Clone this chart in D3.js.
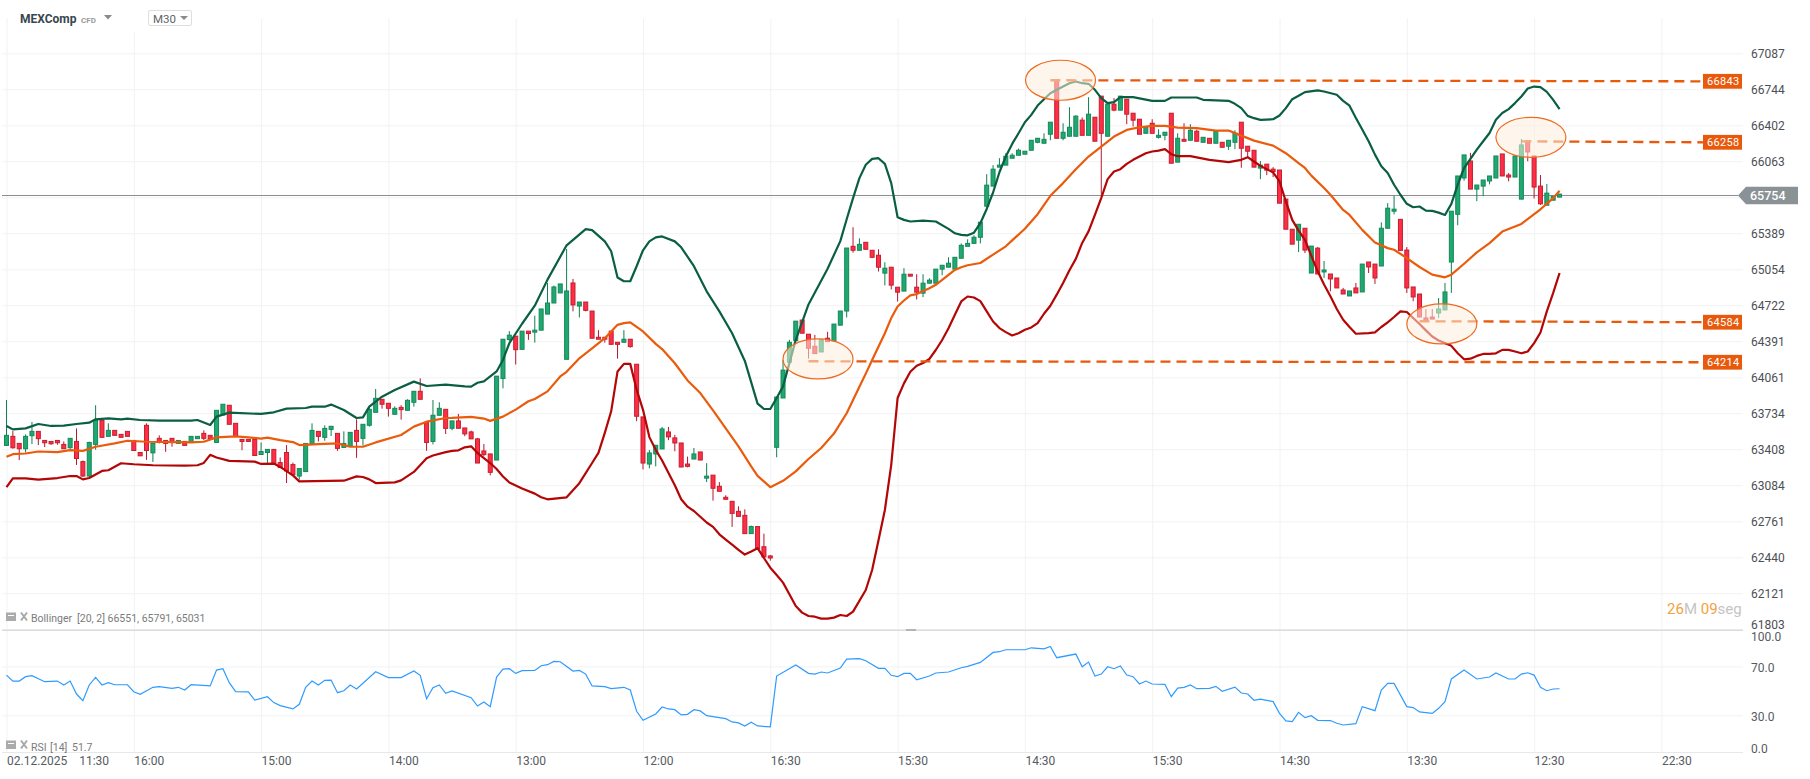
<!DOCTYPE html>
<html>
<head>
<meta charset="utf-8">
<title>MEXComp M30</title>
<script src="https://cdn.jsdelivr.net/npm/d3@7"></script>
<style>
  body { margin: 0; background: #fff; }
  svg { display: block; font-family: Roboto, sans-serif; }
  .grid line { stroke: #f2f2f2; }
  .grid path { display: none; }
</style>
</head>
<body>
<svg id="chart" width="1810" height="779"></svg>
<script>
var opens = [63443,63525,63461,63413,63531,63570,63488,63479,63488,63452,
63422,63479,63297,63167,63452,63670,63525,63579,63543,63570,
63488,63379,63625,63376,63507,63488,63507,63461,63479,63470,
63504,63552,63534,63470,63719,63807,63643,63497,63497,63497,
63361,63379,63407,63288,63379,63270,63167,63207,63461,63570,
63516,63588,63552,63425,63434,63579,63507,63625,63743,63861,
63825,63725,63788,63761,63834,63934,63652,63479,63716,63770,
63598,63665,63601,63565,63502,63393,63366,63311,64051,64407,
64438,64317,64484,64475,64493,64641,64743,64836,64226,64928,
64715,64752,64669,64428,64428,64484,64382,64382,64410,64181,
63701,63275,63366,63411,63565,63511,63465,63275,63320,63384,
63148,63175,63075,62976,62940,62850,62814,62651,62714,62534,
62452,63426,63873,64199,64397,64586,64456,64345,64293,64419,
64391,64539,64669,65268,65231,65305,65231,65185,65019,65074,
64889,64853,65009,64889,64834,64926,64926,65056,65074,65056,
65157,65268,65295,65352,65642,65830,66008,66027,66092,66120,
66130,66167,66242,66233,66318,66834,66280,66299,66299,66451,
66308,66479,66679,66299,66603,66546,66650,66517,66460,66327,
66422,66289,66308,66517,66055,66270,66261,66346,66242,66280,
66233,66242,66205,66242,66432,66205,66167,65999,66036,65989,
65981,65708,65427,65325,65436,65020,65251,65030,65011,64974,
64863,64808,64882,64845,65122,65103,65085,65436,65595,65519,
65233,64891,64826,64605,64614,64651,64679,65122,65566,65906,
66066,65802,65830,65878,65906,66132,65934,65915,65708,66255,
66113,65830,65651,65698,65727];

var highs = [63855,63573,63461,63543,63655,63570,63488,63479,63488,63479,
63507,63597,63307,63476,63807,63688,63643,63579,63543,63570,
63488,63379,63643,63461,63534,63488,63507,63488,63479,63525,
63525,63579,63534,63761,63816,63807,63643,63497,63497,63497,
63470,63407,63407,63334,63446,63288,63234,63461,63643,63570,
63625,63616,63552,63570,63561,63679,63634,63794,63955,63861,
63825,63797,63807,63861,63934,64052,63652,63855,63834,63770,
63665,63728,63601,63577,63511,63456,63366,64072,64410,64484,
64438,64484,64484,64626,64688,64928,64904,64919,65243,64965,
64752,64752,64669,64493,64428,64484,64382,64493,64410,64181,
63701,63402,63444,63610,63610,63538,63465,63342,63420,63384,
63283,63175,63112,62994,62940,62895,62868,62723,62714,62651,
62461,63882,64220,64404,64576,64586,64456,64450,64404,64478,
64549,64669,65252,65446,65342,65305,65231,65240,65120,65074,
64889,65065,65009,65009,65009,64972,65056,65092,65166,65166,
65295,65333,65370,65492,65942,66027,66092,66139,66139,66183,
66158,66261,66280,66327,66432,66834,66422,66574,66498,66476,
66669,66479,66679,66603,66660,66679,66650,66517,66460,66384,
66460,66365,66337,66517,66327,66422,66413,66362,66289,66280,
66346,66242,66261,66356,66432,66205,66167,66065,66036,66008,
65981,65708,65427,65473,65436,65270,65261,65131,65011,64974,
64882,64854,64928,65103,65122,65103,65491,65670,65739,65519,
65261,64891,64826,64688,64688,64789,64928,65595,65925,66123,
66142,65840,65887,65925,66113,66132,65953,66113,66274,66255,
66113,65934,65849,65736,65755];

var lows = [63443,63413,63310,63379,63455,63446,63428,63449,63449,63413,
63413,63267,63158,63158,63404,63516,63525,63534,63516,63525,
63397,63349,63313,63294,63461,63385,63431,63461,63443,63470,
63504,63491,63504,63470,63719,63634,63525,63400,63479,63352,
63361,63285,63276,63243,63104,63179,63134,63207,63461,63479,
63485,63528,63394,63425,63434,63331,63443,63613,63743,63776,
63704,63725,63676,63761,63794,63861,63394,63452,63716,63546,
63580,63598,63526,63502,63284,63345,63173,63311,63961,64391,
64178,64317,64404,64379,64493,64641,64743,64836,64226,64666,
64610,64666,64419,64410,64379,64363,64232,64382,64333,63662,
63227,63236,63254,63411,63490,63390,63248,63245,63320,63311,
63112,62946,63030,62958,62711,62805,62651,62651,62516,62443,
62410,63336,63873,64199,64397,64465,64232,64278,64293,64388,
64391,64539,64610,65209,65231,65240,65157,65034,64905,64868,
64757,64853,64991,64776,64797,64926,64926,65000,65074,65056,
65157,65268,65295,65295,65642,65830,66008,66027,66092,66120,
66130,66167,66233,66233,66261,66280,66261,66299,66299,66308,
66308,66252,65749,66299,66536,66546,66413,66391,66318,66327,
66327,66277,66261,66045,66055,66252,66261,66252,66242,66233,
66233,66195,66170,66177,66002,66102,66008,65895,65933,65914,
65670,65427,65288,65214,65205,65020,65011,64974,64851,64882,
64826,64808,64836,64845,65020,64919,65085,65436,65566,65230,
64836,64759,64614,64577,64595,64605,64679,64836,65464,65881,
65802,65689,65736,65846,65906,65925,65874,65915,65708,66063,
65714,65654,65651,65698,65727];

var closes = [63534,63422,63413,63525,63570,63504,63467,63458,63467,63413,
63507,63325,63167,63470,63670,63516,63579,63534,63516,63525,
63397,63349,63397,63461,63470,63461,63470,63488,63443,63525,
63525,63507,63504,63761,63816,63634,63525,63479,63479,63352,
63388,63407,63276,63243,63213,63179,63234,63461,63579,63525,
63597,63616,63416,63461,63561,63479,63634,63770,63870,63816,
63779,63779,63767,63852,63934,63861,63470,63716,63779,63597,
63665,63598,63547,63502,63284,63360,63200,64072,64410,64447,
64314,64484,64462,64493,64688,64743,64891,64919,64854,64725,
64752,64675,64419,64410,64410,64363,64363,64410,64342,63707,
63284,63375,63444,63592,63520,63465,63248,63254,63366,63311,
63166,63057,63030,62958,62832,62805,62651,62714,62516,62443,
62434,63882,64127,64382,64576,64465,64327,64278,64404,64388,
64549,64669,65252,65231,65286,65240,65166,65074,65065,64908,
64843,65009,64991,64843,64926,64954,65056,65092,65111,65166,
65277,65295,65352,65492,65839,65989,66027,66111,66120,66167,
66158,66261,66280,66270,66432,66280,66337,66384,66489,66308,
66508,66252,66327,66603,66546,66679,66508,66451,66318,66384,
66327,66308,66337,66045,66280,66252,66356,66252,66289,66233,
66346,66195,66261,66327,66186,66158,66008,66027,65980,65967,
65670,65427,65288,65473,65233,65270,65011,65048,64965,64882,
64826,64854,64836,65103,65076,64974,65436,65623,65614,65230,
64882,64799,64614,64577,64595,64688,64845,65595,65925,66123,
65802,65840,65887,65925,66113,65925,65915,66113,66217,66151,
65821,65664,65764,65736,65755];

var upperIdx = [0,1,3,5,7,9,11,13,14,16,18,19,21,24,29,30,32,33,35,40,42,44,47,48,50,51,53,55,56,57,59,61,64,66,69,
72,73,74,75,77,78,79,81,83,85,88,91,92,94,95,96,97,98,99,100,101,102,103,105,106,108,110,112,114,116,118,119,120,121,122,123,124,126,129,131,
132,133,134,135,136,137,138,139,140,141,142,144,146,148,149,150,151,152,153,154,155,156,157,158,159,160,161,162,163,164,165,166,167,168,169,170,171,172,173,174,175,177,180,182,183,187,188,192,193,194,195,196,197,199,200,201,202,203,204,206,207,209,210,
211,212,213,214,215,216,217,218,219,220,221,222,223,224,225,226,227,228,229,230,231,232,233,234,235,236,237,238,239,240,241,242,243,244];
var upperVal = [63619,63588,63597,63637,63619,63622,63637,63649,63679,63688,63679,63685,63673,63667,63667,63673,63628,63704,63740,63728,63743,63776,63782,63794,63794,63813,63764,63691,63697,63794,63885,63946,64022,63982,63994,
63979,63976,64012,64024,64115,64220,64373,64552,64718,64959,65277,65428,65419,65314,65222,64978,64944,64944,65083,65231,65314,65351,65360,65314,65259,65083,64851,64666,64465,64211,63822,63773,63773,63873,63979,64190,64404,64730,65060,65316,
65520,65717,65905,66030,66086,66092,66039,65858,65539,65514,65499,65508,65499,65430,65389,65374,65370,65395,65483,65616,65770,65960,66108,66227,66327,66432,66501,66590,66650,66707,66739,66771,66802,66818,66802,66796,66739,66660,66612,66622,66669,66669,66634,66634,66666,66666,66644,66634,66606,66565,66492,66470,66454,66460,66495,66565,66650,66682,66717,66733,66723,66692,66634,
66588,66472,66362,66252,66126,66016,65953,65843,65749,65664,65632,65639,65601,65598,65582,65560,65664,65843,66000,66085,66173,66252,66330,66456,66519,66556,66613,66676,66751,66770,66764,66720,66644,66556];

var midIdx = [0,1,3,5,8,10,12,14,17,19,22,29,31,33,36,38,40,41,43,45,46,49,52,54,56,58,62,64,66,69,
70,73,75,76,78,80,82,83,85,87,88,90,92,94,96,97,98,100,102,103,105,107,109,111,113,115,117,118,120,122,124,126,128,130,132,133,134,135,136,138,139,140,141,142,143,145,146,148,149,150,151,153,155,157,158,160,162,164,166,168,170,172,174,176,178,180,182,184,187,190,192,194,196,199,201,203,204,
205,207,208,210,211,213,215,217,218,220,222,224,226,227,229,231,233,235,238,241,243,244];
var midVal = [63340,63364,63370,63388,63382,63400,63394,63431,63461,63485,63476,63470,63476,63516,63525,63516,63504,63513,63491,63473,63446,63455,63461,63431,63431,63470,63537,63613,63658,63691,
63692,63701,63686,63665,63704,63767,63843,63864,63933,64069,64112,64235,64327,64419,64542,64558,64564,64481,64367,64320,64190,64033,63918,63761,63598,63435,63254,63169,63067,63124,63209,63320,63420,63550,63734,63855,63975,64095,64219,64465,64604,64711,64766,64813,64825,64880,64911,65003,65049,65074,65092,65113,65191,65268,65323,65431,65567,65739,65858,65989,66108,66202,66296,66359,66384,66397,66397,66381,66375,66353,66353,66305,66258,66211,66139,66045,66000,
65928,65812,65749,65607,65560,65421,65304,65251,65236,65159,65076,65005,64980,65005,65106,65211,65297,65405,65476,65613,65717,65786];

var lowerIdx = [0,1,3,5,8,10,11,12,13,15,16,18,20,23,28,30,31,32,33,35,39,40,42,43,45,46,53,55,56,57,58,61,62,64,66,67,69,
70,71,72,73,74,75,76,77,78,79,81,83,84,85,88,90,92,93,94,95,96,97,98,99,100,101,102,103,105,106,107,108,109,110,111,112,113,114,115,116,117,118,119,120,121,122,123,124,125,126,127,128,129,130,131,132,133,135,136,137,138,139,140,141,142,143,144,145,146,147,148,149,150,151,152,153,154,155,156,157,158,159,160,161,162,163,164,165,166,167,168,169,170,171,172,
173,174,175,176,177,178,179,180,181,182,183,184,186,189,192,194,195,196,197,199,200,201,202,203,204,205,206,207,208,209,210,211,212,214,215,216,217,218,219,220,221,222,223,224,225,226,227,228,229,230,231,232,233,234,235,236,237,238,239,240,241,242,243,244];
var lowerVal = [63067,63146,63146,63134,63149,63167,63167,63137,63149,63213,63219,63282,63273,63264,63261,63264,63285,63358,63334,63304,63297,63276,63279,63249,63173,63119,63125,63164,63158,63137,63104,63110,63128,63204,63328,63352,63382,
63393,63399,63426,63435,63375,63329,63284,63230,63163,63109,63055,63009,62976,62958,62976,63103,63284,63375,63556,63752,64115,64184,64184,63949,63765,63518,63403,63307,63084,62958,62892,62853,62802,62750,62711,62645,62597,62552,62507,62464,62491,62521,62434,62348,62283,62215,62112,62009,61950,61920,61914,61897,61897,61906,61929,61920,61959,62150,62327,62591,62862,63268,63873,64006,64112,64167,64192,64229,64311,64403,64511,64634,64757,64803,64794,64760,64666,64573,64512,64475,64444,64465,64496,64518,64558,64644,64718,64820,64928,65046,65151,65299,65407,65561,65720,
65895,65967,65989,66039,66077,66108,66139,66155,66164,66177,66130,66111,66111,66077,66055,66077,66102,66061,66020,65958,65874,65686,65514,65414,65328,65180,65036,64913,64805,64688,64589,64522,64460,64466,64472,64522,64565,64614,64666,64660,64605,64549,64491,64435,64398,64374,64349,64281,64226,64232,64257,64275,64275,64281,64312,64312,64297,64281,64297,64374,64472,64666,64836,65020];

var rsiIdx = [0,1,2,3,4,6,8,9,10,11,12,13,14,15,16,17,19,20,21,23,24,26,27,28,29,32,33,34,35,36,38,39,41,42,43,45,46,47,48,49,50,51,52,53,54,55,58,60,62,64,65,66,67,68,69,70,73,74,75,76,77,78,79,80,81,83,84,85,86,87,89,90,91,92,94,95,97,98,99,100,102,103,104,105,106,107,108,109,110,113,114,115,116,117,118,120,121,124,126,127,128,129,131,132,134,135,137,138,139,140,
141,142,143,145,146,148,150,151,153,155,156,157,160,161,163,164,165,168,169,170,171,172,173,174,175,176,177,178,179,180,182,183,184,185,186,187,189,190,191,193,194,195,196,197,199,200,201,202,203,204,205,206,208,209,210,212,213,215,216,217,218,220,221,222,224,225,226,227,229,231,233,234,236,237,238,239,240,241,242,243,244];
var rsiVal = [62.9,58.0,58.0,61.6,62.4,57.5,58.0,54.8,58.0,47.4,42.0,54.8,61.0,54.8,56.7,55.0,55.0,49.3,47.2,52.9,53.4,52.0,52.9,50.7,55.0,54.0,67.0,68.1,56.7,49.3,49.1,42.5,45.2,40.4,37.9,35.2,39.0,52.9,58.0,54.8,58.6,58.8,48.5,50.1,54.8,51.5,65.6,60.8,60.8,66.2,62.7,43.6,52.6,54.8,48.0,49.9,44.4,37.6,40.9,37.1,61.3,67.8,68.1,64.3,66.5,66.7,70.5,71.4,74.1,73.8,66.2,66.7,63.7,54.0,53.4,51.8,52.9,50.7,33.3,25.9,31.1,36.8,35.2,34.6,30.3,30.8,34.6,33.6,29.7,27.3,24.6,23.8,21.3,24.3,21.3,20.5,62.1,71.1,64.3,63.7,65.4,64.6,68.6,76.0,76.3,74.6,68.4,68.4,62.7,61.6,
64.3,64.3,59.1,62.1,64.6,65.4,68.9,70.0,73.3,81.4,82.0,83.6,83.6,85.2,84.4,86.3,77.1,80.1,69.7,73.5,62.1,63.7,69.7,68.1,70.3,62.9,61.6,55.6,58.0,55.6,55.3,45.2,52.3,52.9,54.8,51.8,52.0,53.7,49.6,53.1,48.2,47.4,42.3,43.3,41.2,31.6,25.4,24.8,32.4,28.1,29.7,25.9,25.7,23.5,22.1,23.2,37.1,33.8,50.7,56.1,56.1,37.1,36.3,32.8,31.6,35.7,41.2,59.7,67.0,59.7,61.3,64.6,59.7,59.7,63.7,64.8,62.9,52.9,50.1,51.5,51.7];

var priceTicks = [67087,66744,66402,66063,65725,65389,65054,64722,64391,64061,63734,63408,63084,62761,62440,62121,61803];
var rsiTicks = [100,70,30,0];
var timeIdx = [0,20,40,60,80,100,120,140,160,180,200,220,240,260];
var timeLabels = ["02.12.2025\u00a0\u00a0\u00a0 11:30","16:00","15:00","14:00","13:00","12:00","16:30","15:30","14:30","15:30","14:30","13:30","12:30","22:30"];

var levelLabels = [66843,66258,64584,64214];
var levelFrom = [66830,66251,64575,64208];
var levelTo = [66820,66242,64566,64199];
var levelStartIdx = [164,238,222,126];
var circleIdx = [165.6,239.5,225.5,127.5];
var circlePrice = [66830,66289,64550,64229];

var lastPrice = 65754;
var lastLine = 65742;

var svg = d3.select("#chart");

var x = d3.scaleLinear().domain([0,260]).range([6.5,1661.4]);
var y = d3.scaleLog().domain([61803,67087]).range([629.3,53.3]);
var yRsi = d3.scaleLinear().domain([0,100]).range([752,629.7]);

var RIGHT = 1743;

// grid, from the axes
var xAxis = d3.axisBottom(x).tickValues(timeIdx).tickSize(-734).tickPadding(4)
	.tickFormat(function(d,i){ return timeLabels[i]; });
var gx = svg.append("g").attr("class","grid").attr("transform","translate(0,752.4)").call(xAxis);
gx.selectAll("text").attr("text-anchor","start").attr("x",0).attr("fill","#565b5f").style("font-size","12px").style("font-family","Roboto");

var yAxis = d3.axisRight(y).tickValues(priceTicks).tickSize(-(RIGHT-2)).tickPadding(8)
	.tickFormat(function(d){ return d3.format("d")(d); });
var gy = svg.append("g").attr("class","grid").attr("transform","translate("+RIGHT+",0)").call(yAxis);
gy.selectAll("text").attr("fill","#4c5054").style("font-size","12px").style("font-family","Roboto")
	.attr("y",function(d){ return d == 61803 ? -4.5 : 0; })
	.text(function(d){ return d == 65725 ? null : d; });

var rAxis = d3.axisRight(yRsi).tickValues(rsiTicks).tickSize(-(RIGHT-2)).tickPadding(8)
	.tickFormat(function(d){ return d3.format(".1f")(d); });
var gr = svg.append("g").attr("class","grid").attr("transform","translate("+RIGHT+",0)").call(rAxis);
gr.selectAll("text").attr("fill","#565b5f").style("font-size","12px").style("font-family","Roboto")
	.attr("y",function(d){ return d == 100 ? 7 : (d == 0 ? -3 : 1); });
gr.selectAll(".tick line").style("stroke",function(d){ return d == 100 ? "#dcdcdc" : (d == 0 ? "#e8e8e8" : "#f2f2f2"); })
	.style("stroke-width",function(d){ return d == 100 ? 1.5 : 1; });

// current price line
var lastY = Math.round(y(lastLine))+0.5;
svg.append("line").attr("x1",2).attr("x2",1738).attr("y1",lastY).attr("y2",lastY)
	.attr("stroke","#8b8e90").attr("stroke-width",1);

// little handle on the pane separator
svg.append("rect").attr("x",906).attr("y",629).attr("width",10).attr("height",2).attr("fill","#b4b4b4");

// candles
var candles = svg.append("g").selectAll("g").data(opens).enter().append("g");
function isUp(i){ return closes[i] >= opens[i]; }
candles.append("line")
	.attr("x1",function(d,i){ return x(i); })
	.attr("x2",function(d,i){ return x(i); })
	.attr("y1",function(d,i){ return y(highs[i]); })
	.attr("y2",function(d,i){ return y(lows[i]); })
	.attr("stroke",function(d,i){ return isUp(i) ? "#0f7f50" : "#b5172c"; })
	.attr("stroke-width",1);
candles.append("rect")
	.attr("x",function(d,i){ return x(i)-2; })
	.attr("width",4)
	.attr("y",function(d,i){ return y(Math.max(opens[i],closes[i])); })
	.attr("height",function(d,i){ return Math.max(1,Math.abs(y(opens[i])-y(closes[i]))); })
	.attr("fill",function(d,i){ return isUp(i) ? "#20a870" : "#ff2d46"; })
	.attr("stroke",function(d,i){ return isUp(i) ? "#13895a" : "#c2202f"; })
	.attr("stroke-width",1);

// bollinger
function drawBand(idx,vals,color){
	var line = d3.line()
		.x(function(d){ return x(d); })
		.y(function(d,i){ return y(vals[i]); });
	svg.append("path").attr("d",line(idx)).attr("fill","none").attr("stroke",color)
		.attr("stroke-width",2.2).attr("stroke-linejoin","round");
}
drawBand(upperIdx,upperVal,"#0a5f42");
drawBand(midIdx,midVal,"#ea5b0c");
drawBand(lowerIdx,lowerVal,"#b30606");

// rsi
var rsiLine = d3.line()
	.x(function(d){ return x(d); })
	.y(function(d,i){ return yRsi(rsiVal[i]); });
svg.append("path").attr("d",rsiLine(rsiIdx)).attr("fill","none").attr("stroke","#2f9bff").attr("stroke-width",1.2);

// hand drawn levels
var LABEL_X = 1703;
levelLabels.forEach(function(v,i){
	svg.append("line")
		.attr("x1",x(levelStartIdx[i])).attr("x2",LABEL_X)
		.attr("y1",y(levelFrom[i])).attr("y2",y(levelTo[i]))
		.attr("stroke","#e8590c").attr("stroke-width",2.3).attr("stroke-dasharray","10,6");
	svg.append("rect").attr("x",LABEL_X).attr("y",y(levelTo[i])-7.4).attr("width",39).attr("height",14.8).attr("fill","#e8590c");
	svg.append("text").attr("x",LABEL_X+4).attr("y",y(levelTo[i])+4)
		.attr("fill","#fff").style("font-size","11px").style("letter-spacing","0.3px").text(v);
});
circleIdx.forEach(function(c,i){
	svg.append("ellipse").attr("cx",x(c)).attr("cy",y(circlePrice[i])).attr("rx",35).attr("ry",20)
		.attr("fill","#fdeedd").attr("fill-opacity",0.55)
		.attr("stroke","#ee6a20").attr("stroke-width",1.2);
});

// last price tag
var tagY = lastY;
svg.append("path")
	.attr("d","M1738,"+tagY+"L1746,"+(tagY-8.7)+"H1798V"+(tagY+8.7)+"H1746Z")
	.attr("fill","#8a9296");
svg.append("text").attr("x",1750).attr("y",tagY+4.4).attr("fill","#fff")
	.style("font-size","12.5px").style("font-weight","500").text(lastPrice);

// header, hides the grid behind the dropdown
svg.append("rect").attr("x",112).attr("y",0).attr("width",88).attr("height",32).attr("fill","#fff");
svg.append("text").attr("x",20).attr("y",23).attr("fill","#37474f")
	.style("font-size","12px").style("font-weight","700").text("MEXComp");
svg.append("text").attr("x",81).attr("y",22.5).attr("fill","#9a9a9a")
	.style("font-size","8px").style("font-weight","700").text("CFD");
svg.append("path").attr("d","M104,15H112L108,19.5Z").attr("fill","#8a8a8a");
svg.append("rect").attr("x",148.5).attr("y",10.5).attr("width",43).attr("height",15).attr("rx",1.5)
	.attr("fill","#fff").attr("stroke","#dedede");
svg.append("text").attr("x",153).attr("y",22.5).attr("fill","#5f6468").style("font-size","11.5px").text("M30");
svg.append("path").attr("d","M180,16H188L184,20Z").attr("fill","#8a8a8a");

// indicator legends
function legendIcons(iy){
	svg.append("rect").attr("x",6).attr("y",iy).attr("width",10).attr("height",8.5).attr("fill","#ababab");
	svg.append("line").attr("x1",8).attr("x2",14).attr("y1",iy+3).attr("y2",iy+3).attr("stroke","#fff");
	svg.append("path").attr("d","M21,"+iy+"L27,"+(iy+8)+"M27,"+iy+"L21,"+(iy+8))
		.attr("stroke","#a8a8a8").attr("stroke-width",2);
}
legendIcons(612.5);
legendIcons(740.5);
svg.append("text").attr("x",31).attr("y",622).attr("fill","#7b7b7b").style("font-size","10.5px")
	.text("Bollinger");
svg.append("text").attr("x",77).attr("y",622).attr("fill","#7b7b7b").style("font-size","10.5px")
	.text("[20, 2] 66551, 65791, 65031");
svg.append("text").attr("x",31).attr("y",751).attr("fill","#7b7b7b").style("font-size","10.5px")
	.text("RSI");
svg.append("text").attr("x",50).attr("y",751).attr("fill","#7b7b7b").style("font-size","10.5px")
	.text("[14]");
svg.append("text").attr("x",72).attr("y",751).attr("fill","#7b7b7b").style("font-size","10.5px")
	.text("51.7");

// candle countdown
var timer = svg.append("text").attr("x",1667).attr("y",614).style("font-size","15px");
timer.append("tspan").attr("fill","#f5a13c").text("26");
timer.append("tspan").attr("fill","#c4c4c4").text("M ");
timer.append("tspan").attr("fill","#f5a13c").text("09");
timer.append("tspan").attr("fill","#c4c4c4").text("seg");
</script>
</body>
</html>
